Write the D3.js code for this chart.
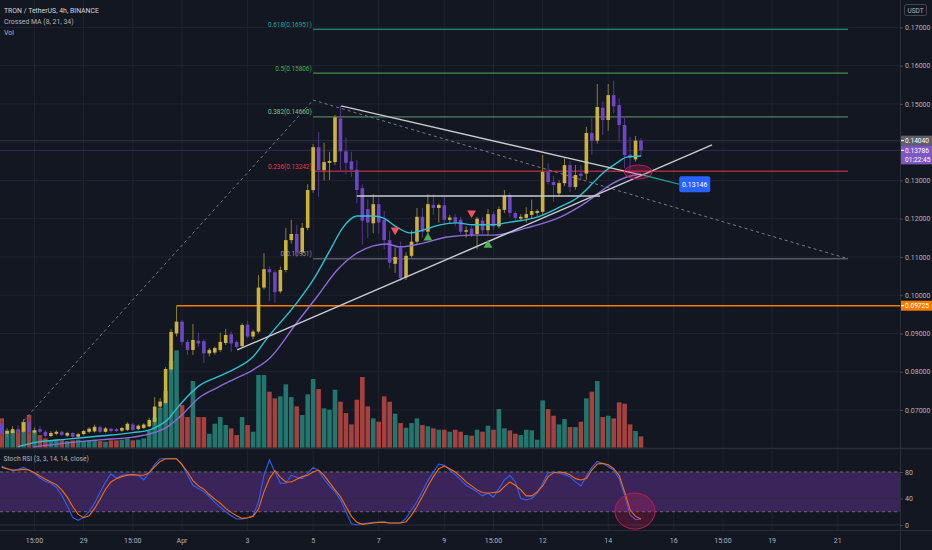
<!DOCTYPE html>
<html><head><meta charset="utf-8">
<script src="https://cdn.jsdelivr.net/npm/d3@7"></script>
<style>html,body{margin:0;padding:0;background:#131722;}svg{display:block;}</style>
</head><body>
<svg id="c" width="932" height="550"></svg>
<script>
// ---------------- DATA ----------------
const opens = [0.0664,0.0638,0.0640,0.0650,0.0643,0.0668,0.0641,0.0650,0.0643,0.0632,0.0638,0.0643,0.0633,0.0640,0.0630,0.0637,0.0643,0.0644,0.0655,0.0643,0.0651,0.0650,0.0646,0.0648,0.0662,0.0650,0.0653,0.0657,0.0669,0.0709,
0.0718,0.0806,0.0900,0.0931,0.0878,0.0857,0.0881,0.0880,0.0848,0.0850,0.0857,0.0875,0.0898,0.0878,0.0867,0.0923,0.0892,0.0905,0.1020,0.1068,
0.1060,0.1010,0.1066,0.1144,0.1160,0.1113,0.1176,0.1275,0.1387,0.1327,0.1346,0.1348,0.1462,0.1376,0.1350,0.1328,0.1280,0.1225,0.1188,0.1238,
0.1197,0.1144,0.1082,0.1124,0.1047,0.1103,0.1140,0.1205,0.1166,0.1236,0.1228,0.1235,0.1197,0.1204,0.1197,0.1166,0.1174,0.1160,0.1195,0.1170,
0.1212,0.1180,0.1223,0.1262,0.1215,0.1200,0.1202,0.1210,0.1215,0.1218,0.1322,0.1296,0.1266,0.1293,0.1340,0.1283,0.1318,0.1318,0.1424,0.1404,
0.1490,0.1458,0.1523,0.1497,0.1445,0.1367,0.1355,0.1404];
const highs = [0.0672,0.0652,0.0658,0.0660,0.0676,0.0680,0.0655,0.0658,0.0647,0.0645,0.0647,0.0646,0.0643,0.0642,0.0640,0.0648,0.0655,0.0662,0.0660,0.0656,0.0654,0.0653,0.0656,0.0668,0.0666,0.0662,0.0665,0.0680,0.0734,0.0731,
0.0812,0.0912,0.09725,0.0935,0.0885,0.0925,0.0902,0.0885,0.0862,0.0866,0.0902,0.0912,0.0905,0.0882,0.0927,0.0933,0.0910,0.1053,0.1110,0.1075,
0.1065,0.1075,0.1176,0.1197,0.1184,0.1189,0.1290,0.1395,0.1427,0.1398,0.1375,0.1471,0.1495,0.1412,0.1375,0.1353,0.1290,0.1250,0.1264,0.1255,
0.1220,0.1168,0.1125,0.1140,0.1112,0.1170,0.1228,0.1228,0.1264,0.1264,0.1240,0.1257,0.1210,0.1212,0.1205,0.1180,0.1185,0.1205,0.1205,0.1225,
0.1220,0.1232,0.1275,0.1268,0.1220,0.1212,0.1230,0.1250,0.1225,0.1367,0.1345,0.1312,0.1300,0.1358,0.1350,0.1340,0.1340,0.1440,0.1463,0.1552,
0.1506,0.1552,0.1561,0.1515,0.1467,0.1414,0.1416,0.1410];
const lows = [0.0632,0.0630,0.0636,0.0638,0.0640,0.0638,0.0636,0.0638,0.0628,0.0629,0.0634,0.0632,0.0630,0.0627,0.0627,0.0634,0.0640,0.0641,0.0640,0.0641,0.0642,0.0642,0.0643,0.0645,0.0645,0.0647,0.0650,0.0655,0.0661,0.0702,
0.0712,0.0800,0.0892,0.0870,0.0844,0.0844,0.0865,0.0823,0.0840,0.0845,0.0852,0.0870,0.0852,0.0860,0.0862,0.0888,0.0885,0.0900,0.1015,0.0985,
0.0980,0.1005,0.1060,0.1135,0.1100,0.1105,0.1170,0.1268,0.1257,0.1300,0.1301,0.1340,0.1325,0.1316,0.1310,0.1240,0.1131,0.1150,0.1162,0.1160,
0.1120,0.1070,0.1058,0.1037,0.1040,0.1098,0.1135,0.1150,0.1160,0.1210,0.1190,0.1187,0.1190,0.1180,0.1160,0.1150,0.1152,0.1120,0.1160,0.1155,
0.1170,0.1175,0.1215,0.1205,0.1195,0.1195,0.1190,0.1200,0.1208,0.1212,0.1290,0.1244,0.1258,0.1285,0.1270,0.1276,0.1300,0.1302,0.1367,0.1396,
0.1419,0.1430,0.1475,0.1401,0.1332,0.1327,0.1349,0.1362];
const closes = [0.0638,0.0645,0.0650,0.0643,0.0668,0.0642,0.0647,0.0643,0.0632,0.0640,0.0643,0.0635,0.0640,0.0630,0.0637,0.0645,0.0651,0.0656,0.0643,0.0652,0.0645,0.0645,0.0653,0.0664,0.0648,0.0659,0.0662,0.0674,0.0709,0.0722,
0.0807,0.0904,0.0931,0.0878,0.0857,0.0883,0.0874,0.0848,0.0857,0.0862,0.0878,0.0896,0.0874,0.0865,0.0922,0.0892,0.0905,0.1020,0.1068,0.1060,
0.1008,0.1066,0.1144,0.1160,0.1113,0.1176,0.1275,0.1387,0.1327,0.1348,0.1351,0.1465,0.1376,0.1346,0.1328,0.1275,0.1195,0.1190,0.1238,0.1190,
0.1144,0.1085,0.1100,0.1045,0.1103,0.1140,0.1205,0.1166,0.1238,0.1228,0.1236,0.1197,0.1203,0.1189,0.1166,0.1170,0.1157,0.1200,0.1170,0.1212,
0.1180,0.1225,0.1260,0.1215,0.1202,0.1205,0.1212,0.1220,0.1220,0.1322,0.1296,0.1288,0.1293,0.1340,0.1283,0.1314,0.1312,0.1424,0.1404,0.1492,
0.1458,0.1523,0.1494,0.1445,0.1366,0.1360,0.1404,0.13786];
const volumes = [44,26,26,26,39,49,26,19,14,11,12,11,10,11,12,10,11,12,10,9,11,11,12,14,11,12,14,26,45,60,
85,130,146,64,46,100,46,46,21,36,46,34,29,19,46,34,24,109,109,84,
74,77,95,76,62,49,80,103,88,59,57,87,69,52,35,72,106,62,44,39,
77,69,51,37,30,37,44,34,32,29,27,27,24,27,24,19,18,27,24,33,
27,58,29,26,21,19,27,26,12,71,58,48,35,43,31,31,39,74,84,100,
46,48,44,68,66,35,25,17];
// Crossed MA lines, read at [bar index, price]
const maFastIdx = [3,5.7,12,18,24,27.1,29,30.3,32.1,33.9,36.3,39.4,42.3,46,48.6,54,57,60.1,62.5,65,68,69.8,72.3,74.7,77.1,80.2,83.3,86.3,89.9,93,98,102.2,105.3,108.2,110,112.6,114.4,117];
const maFastVal = [0.0604,0.0614,0.0624,0.0632,0.0641,0.0648,0.0661,0.0674,0.0705,0.0734,0.0765,0.0786,0.0805,0.0839,0.0888,0.0980,0.1040,0.1118,0.1178,0.1207,0.1207,0.1202,0.1178,0.1163,0.1170,0.1184,0.1189,0.1184,0.1184,0.1191,0.1204,0.1231,0.1254,0.1293,0.1319,0.1346,0.1361,0.1364];
const maSlowIdx = [5.7,12,18,24,27.7,30.3,32.6,36.3,39.4,42.3,46,49.1,54,57.7,61.4,65,68,70.5,72.9,77.1,81.5,86.3,89.9,96.1,102.2,107.1,111.3,114.4,117];
const maSlowVal = [0.0603,0.0614,0.0622,0.0629,0.0640,0.0656,0.0682,0.0734,0.0758,0.0779,0.0805,0.0836,0.0928,0.0996,0.1066,0.1110,0.1129,0.1134,0.1126,0.1136,0.1152,0.1157,0.1157,0.1176,0.1204,0.1244,0.1288,0.1309,0.1317];
// Stoch RSI (3,3,14,14) K and D per bar
const stochK = [89,85,82,84,87,83,78,71,66,63,57,45,29,11,7,12,20,33,49,65,77,71,75,76,76,75,68,79,91,100,
100,100,100,92,75,60,55,50,43,34,27,20,14,9,9,11,14,35,75,98,
80,63,63,75,72,70,78,87,82,69,59,50,38,20,2,0,2,3,4,4,
5,3,3,3,10,23,35,51,67,80,92,90,83,76,68,60,55,50,44,48,
42,55,68,75,65,40,38,40,48,63,79,80,78,76,73,65,59,74,87,96,
93,88,83,70,45,15,8,9];
const stochD = [87,85,83,83,84,83,79,74,69,65,61,53,42,28,16,11,14,25,39,54,65,70,73,75,76,75,75,79,88,96,
100,100,100,91,80,67,59,54,46,39,33,25,19,14,10,11,13,24,50,70,
82,72,65,65,69,73,75,80,83,75,64,53,43,28,13,4,1,2,3,4,
4,3,3,3,5,15,28,43,59,73,85,89,85,80,73,65,59,53,49,48,
49,50,58,65,60,53,44,44,50,59,73,79,80,79,76,70,68,70,83,92,
93,91,85,75,50,23,13,9];
// price axis and time axis
const priceTicks = [0.07,0.08,0.09,0.10,0.11,0.12,0.13,0.14,0.15,0.16,0.17];
const stochTicks = [0,40,80];
const timeTickIdx = [6,15,24,33,45,57,69,81,90,99,111,123,132,141,153];
const timeTickLabels = ["15:00","29","15:00","Apr","3","5","7","9","15:00","12","14","16","15:00","19","21"];
// Fibonacci levels
const fibRatios = ["0.618","0.5","0.382","0.236","0"];
const fibPrices = [0.16951,0.15806,0.14660,0.13242,0.10951];
const fibColors = ["#22ab94","#4caf50","#81c784","#f23645","#787b86"];
const fibStartIdx = 57, fibEndIdx = 154.9;
// drawings [barIndex, price]
const fibPathA = [[4,0.0672],[57,0.1510]];
const fibPathB = [[57,0.1510],[154.9,0.10951]];
const trendDown = [[62.1,0.1495],[117.2,0.1314]];
const trendUp = [[43.1,0.0857],[130,0.1393]];
const resistance = [[65,0.12593],[109.5,0.12593]];
const supportLevel = 0.09725, supportStartIdx = 32;
const sellSignals = [[72,0.1170],[86,0.1215]];
const buySignals = [[78,0.1150],[89,0.1131]];
const crossMark = [116.5,0.1322];
const calloutLine = [[117.4,0.1314],[124,0.1290]];
const calloutText = "0.13146";
const stochMark = [115.9,21];
const lastPrice = 0.13786, prevPrice = 0.14040, countdown = "01:22:45";

// ---------------- LAYOUT ----------------
const W = 932, H = 550, plotR = 900;
const svg = d3.select("#c");
const font = "Roboto, 'Liberation Sans', sans-serif";
svg.append("rect").attr("width",W).attr("height",H).attr("fill","#131722");

const x = d3.scaleLinear().domain([-0.31,164.4]).range([0,plotR]);
const y = d3.scaleLinear().domain([0.07,0.17]).range([410,27.4]);
const yv = d3.scaleLinear().domain([0,150]).range([447.7,347.7]);
const ys = d3.scaleLinear().domain([0,100]).range([525,458.75]);
const priceBot = 448, stochTop = 449, stochBot = 530;

const defs = svg.append("defs");
defs.append("clipPath").attr("id","cp").append("rect").attr("x",0).attr("y",0).attr("width",plotR).attr("height",priceBot);
defs.append("clipPath").attr("id","cs").append("rect").attr("x",0).attr("y",stochTop).attr("width",plotR).attr("height",stochBot-stochTop);

// grid
const grid = svg.append("g");
grid.selectAll(".hg").data(priceTicks).join("line")
  .attr("x1",0).attr("x2",plotR).attr("y1",d=>y(d)).attr("y2",d=>y(d))
  .attr("stroke","#1f2330").attr("stroke-width",1);
grid.selectAll(".vg").data(timeTickIdx).join("line")
  .attr("x1",d=>x(d)).attr("x2",d=>x(d)).attr("y1",0).attr("y2",stochBot)
  .attr("stroke","#1f2330").attr("stroke-width",1);

// ---- stoch panel ----
const sp = svg.append("g").attr("clip-path","url(#cs)");
sp.append("rect").attr("x",0).attr("width",plotR).attr("y",ys(80)).attr("height",ys(20)-ys(80)).attr("fill","#3a2459");
sp.selectAll(".sg").data(stochTicks).join("line")
  .attr("x1",0).attr("x2",plotR).attr("y1",d=>ys(d)).attr("y2",d=>ys(d)).attr("stroke","#2a2e39");
[80,20].forEach(v=>sp.append("line").attr("x1",0).attr("x2",plotR).attr("y1",ys(v)).attr("y2",ys(v))
  .attr("stroke","#787b86").attr("stroke-dasharray","3,3").attr("stroke-width",0.8));
const lineS = d3.line().x((d,i)=>x(i)).y(d=>ys(d));
sp.append("path").datum(stochK).attr("d",lineS).attr("fill","none").attr("stroke","#2962ff").attr("stroke-width",1.1);
sp.append("path").datum(stochD).attr("d",lineS).attr("fill","none").attr("stroke","#ff6d00").attr("stroke-width",1.1);
sp.append("ellipse").attr("cx",x(stochMark[0])).attr("cy",ys(stochMark[1])).attr("rx",20).attr("ry",18)
  .attr("fill","rgba(233,30,99,0.22)").attr("stroke","#c2185b").attr("stroke-width",1);

// ---- price panel ----
const pp = svg.append("g").attr("clip-path","url(#cp)");
pp.selectAll(".vol").data(volumes).join("rect")
  .attr("x",(d,i)=>x(i)-2.3).attr("width",4.6)
  .attr("y",d=>yv(d)).attr("height",d=>yv(0)-yv(d))
  .attr("fill",(d,i)=>closes[i]>=opens[i]?"#22766d":"#a5413e");

pp.append("line").attr("x1",0).attr("x2",plotR).attr("y1",y(prevPrice)).attr("y2",y(prevPrice))
  .attr("stroke","#5d606b").attr("stroke-opacity",0.35);
pp.append("line").attr("x1",0).attr("x2",plotR).attr("y1",y(lastPrice)).attr("y2",y(lastPrice))
  .attr("stroke","#7e57c2").attr("stroke-opacity",0.3);

// fib levels
const fibG = pp.append("g");
fibPrices.forEach((p,k)=>{
  fibG.append("line").attr("x1",x(fibStartIdx)).attr("x2",x(fibEndIdx)).attr("y1",y(p)).attr("y2",y(p))
    .attr("stroke",fibColors[k]).attr("stroke-width",1).attr("stroke-opacity",k===2?0.75:1);
  fibG.append("text").attr("x",x(fibStartIdx)-1.5).attr("y",y(p)-2.5).attr("text-anchor","end")
    .attr("font-family",font).attr("font-size",6.4).attr("fill",fibColors[k]==="#787b86"?"#9598a1":fibColors[k])
    .text(fibRatios[k]+"("+p.toFixed(5)+")");
});
const ln = d3.line().x(d=>x(d[0])).y(d=>y(d[1]));
pp.append("path").datum(fibPathA).attr("d",ln).attr("stroke","#787b86").attr("stroke-dasharray","3,3").attr("fill","none");
pp.append("path").datum(fibPathB).attr("d",ln).attr("stroke","#787b86").attr("stroke-dasharray","3,3").attr("fill","none");

pp.append("line").attr("x1",x(supportStartIdx)).attr("x2",plotR).attr("y1",y(supportLevel)).attr("y2",y(supportLevel))
  .attr("stroke","#f57c00").attr("stroke-width",1.6);

// candles
const bw = 3.6;
const cg = pp.append("g");
const up = i=>closes[i]>=opens[i];
const cUp = "#cbb23a", cDn = "#6d46c6";
cg.selectAll(".wick").data(closes).join("line")
  .attr("x1",(d,i)=>x(i)).attr("x2",(d,i)=>x(i))
  .attr("y1",(d,i)=>y(highs[i])).attr("y2",(d,i)=>y(lows[i]))
  .attr("stroke",(d,i)=>up(i)?"#8c7d32":"#54388f").attr("stroke-width",1);
cg.selectAll(".body").data(closes).join("rect")
  .attr("x",(d,i)=>x(i)-bw/2).attr("width",bw)
  .attr("y",(d,i)=>y(Math.max(opens[i],closes[i])))
  .attr("height",(d,i)=>Math.max(1,Math.abs(y(opens[i])-y(closes[i]))))
  .attr("fill",(d,i)=>up(i)?cUp:cDn);

// MA lines
const lineMA = d3.line().curve(d3.curveMonotoneX).x(d=>x(d[0])).y(d=>y(d[1]));
pp.append("path").datum(d3.zip(maSlowIdx,maSlowVal)).attr("d",lineMA).attr("fill","none").attr("stroke","#8c6bd6").attr("stroke-width",1.4);
pp.append("path").datum(d3.zip(maFastIdx,maFastVal)).attr("d",lineMA).attr("fill","none").attr("stroke","#2cc3d3").attr("stroke-width",1.4);

// trend lines
[trendDown,trendUp,resistance].forEach(t=>pp.append("path").datum(t).attr("d",ln)
  .attr("stroke","#c9cbd1").attr("stroke-width",1.4).attr("fill","none"));

// signals
const tri = d3.symbol().type(d3.symbolTriangle).size(34);
pp.selectAll(".sell").data(sellSignals).join("path").attr("d",tri)
  .attr("transform",d=>`translate(${x(d[0])},${y(d[1])}) rotate(180)`).attr("fill","#f7525f");
pp.selectAll(".buy").data(buySignals).join("path").attr("d",tri)
  .attr("transform",d=>`translate(${x(d[0])},${y(d[1])})`).attr("fill","#4caf50");

pp.append("ellipse").attr("cx",x(crossMark[0])).attr("cy",y(crossMark[1])).attr("rx",14).attr("ry",7)
  .attr("fill","rgba(233,30,99,0.25)").attr("stroke","#c2185b").attr("stroke-width",1);
pp.append("path").datum(calloutLine).attr("d",ln).attr("stroke","#22ab94").attr("stroke-width",1.2).attr("fill","none");
const cx0 = x(calloutLine[1][0]), cy0 = y(calloutLine[1][1]);
pp.append("rect").attr("x",cx0).attr("y",cy0-8).attr("width",31).attr("height",16).attr("rx",2).attr("fill","#2962ff");
pp.append("text").attr("x",cx0+15.5).attr("y",cy0+2.6).attr("text-anchor","middle").attr("font-family",font)
  .attr("font-size",7).attr("fill","#ffffff").text(calloutText);

// ---- separators ----
svg.append("line").attr("x1",0).attr("x2",W).attr("y1",priceBot+0.5).attr("y2",priceBot+0.5).attr("stroke","#2a2e39").attr("stroke-width",1.5);
svg.append("line").attr("x1",0).attr("x2",W).attr("y1",stochBot+0.5).attr("y2",stochBot+0.5).attr("stroke","#2a2e39");
svg.append("line").attr("x1",plotR+0.5).attr("x2",plotR+0.5).attr("y1",0).attr("y2",H).attr("stroke","#2a2e39");

// ---- price axis ----
const axG = svg.append("g").attr("transform",`translate(${plotR},0)`);
axG.call(d3.axisRight(y).tickValues(priceTicks).tickFormat(d3.format(".5f")).tickSize(3));
axG.select(".domain").remove();
axG.selectAll("line").attr("stroke","#434651");
axG.selectAll("text").attr("font-family",font).attr("font-size",7).attr("fill","#b2b5be").attr("x",5);
const asG = svg.append("g").attr("transform",`translate(${plotR},0)`).call(d3.axisRight(ys).tickValues(stochTicks).tickSize(3));
asG.select(".domain").remove();
asG.selectAll("line").attr("stroke","#434651");
asG.selectAll("text").attr("font-family",font).attr("font-size",7).attr("fill","#b2b5be").attr("x",5);

svg.append("rect").attr("x",904.5).attr("y",4.5).attr("width",22).attr("height",11).attr("rx",2)
  .attr("fill","none").attr("stroke","#434651");
svg.append("text").attr("x",915.5).attr("y",12.5).attr("text-anchor","middle").attr("font-family",font)
  .attr("font-size",6.5).attr("fill","#b2b5be").text("USDT");

function priceLabel(p, fill, lines, h){
  const yy = y(p);
  svg.append("rect").attr("x",plotR+1).attr("y",yy-5).attr("width",W-plotR-1).attr("height",h).attr("fill",fill);
  svg.append("line").attr("x1",plotR+1).attr("x2",plotR+4).attr("y1",yy).attr("y2",yy).attr("stroke","#ffffff");
  lines.forEach((t,k)=>svg.append("text").attr("x",plotR+5).attr("y",yy+2.5+k*9.2)
    .attr("font-family",font).attr("font-size",6.6).attr("fill","#ffffff").text(t));
}
priceLabel(prevPrice,"#5d606b",[d3.format(".5f")(prevPrice)],10);
priceLabel(lastPrice,"#7e57c2",[d3.format(".5f")(lastPrice),countdown],19);
priceLabel(supportLevel,"#f57c00",[d3.format(".5f")(supportLevel)],10);

// ---- time axis ----
svg.append("g").selectAll("text").data(timeTickIdx).join("text")
  .attr("x",d=>x(d)).attr("y",543).attr("text-anchor","middle")
  .attr("font-family",font).attr("font-size",7).attr("fill","#b2b5be")
  .text((d,k)=>timeTickLabels[k]);

// ---- legends ----
const lg = [["TRON / TetherUS, 4h, BINANCE",12.5,"#d1d4dc"],["Crossed MA (8, 21, 34)",24,"#b2b5be"],["Vol",34.5,"#b2b5be"]];
lg.forEach(l=>svg.append("text").attr("x",4).attr("y",l[1]).attr("font-family",font).attr("font-size",6.9)
  .attr("fill",l[2]).text(l[0]));
svg.append("text").attr("x",3.5).attr("y",461).attr("font-family",font).attr("font-size",6.7)
  .attr("fill","#b2b5be").text("Stoch RSI (3, 3, 14, 14, close)");
</script>
</body></html>
